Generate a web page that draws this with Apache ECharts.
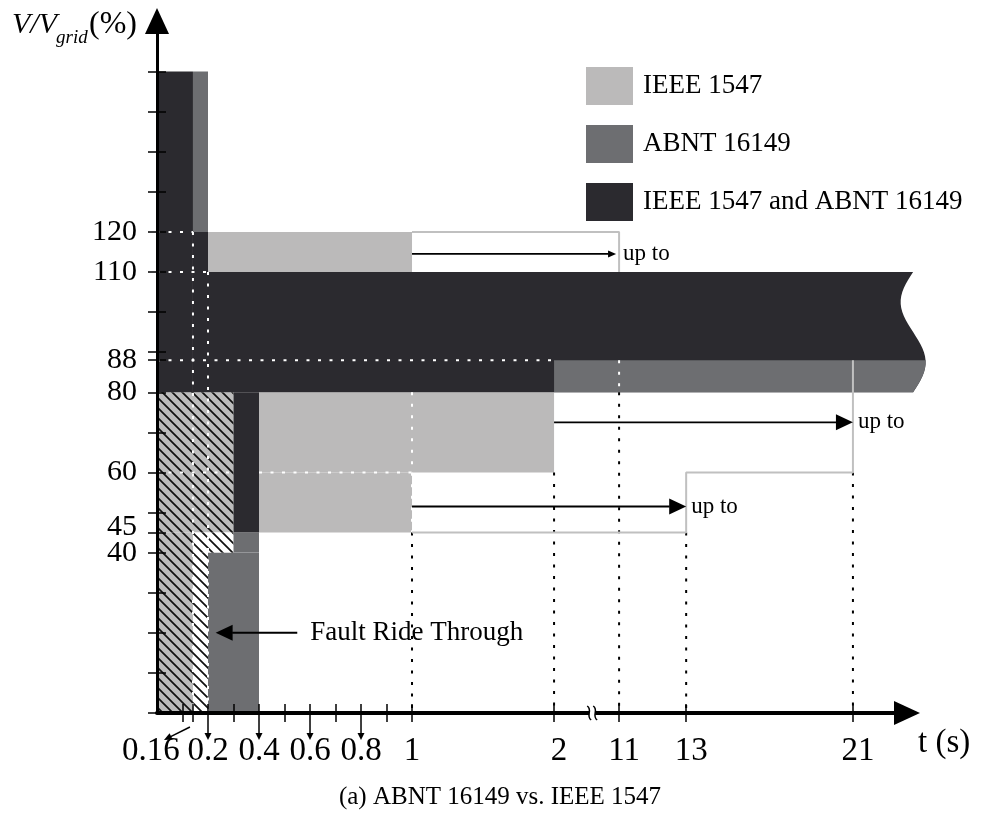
<!DOCTYPE html>
<html>
<head>
<meta charset="utf-8">
<script src="https://cdn.jsdelivr.net/npm/echarts@6/dist/echarts.min.js"></script>
<style>
  html, body { margin: 0; padding: 0; background: #fff; }
  #chart { width: 982px; height: 815px; }
</style>
</head>
<body>
<div id="chart"></div>
<script>
// schematic time axis: t (s) knots and where they sit along the axis
const tKnots = [0, 0.1, 0.16, 0.2, 1, 2, 11, 13, 21, 24];
const uKnots = [0, 0.1, 0.141, 0.2, 1, 1.557, 1.812, 2.075, 2.729, 2.965];

const xTickValues = [0.1, 0.16, 0.2, 0.3, 0.4, 0.5, 0.6, 0.7, 0.8, 0.9, 1, 2, 11, 13, 21];
const xTickLabels = ['0.16', '0.2', '0.4', '0.6', '0.8', '1', '2', '11', '13', '21'];
const yTickValues = [0, 10, 20, 30, 40, 45, 50, 60, 70, 80, 88, 90, 100, 110, 120, 130, 140, 150, 160];
const yTickLabels = [40, 45, 60, 80, 88, 110, 120];
const legendNames = ['IEEE 1547', 'ABNT 16149', 'IEEE 1547 and ABNT 16149'];

// zones: [t start, t end, V low, V high]
const ieeeZones = [[0.2, 1, 110, 120], [0.4, 2, 60, 80], [0.4, 1, 45, 60]];
const abntZones = [[0.16, 0.2, 120, 160], [0.2, 0.4, 0, 40], [0.3, 0.4, 40, 45]];
const bothZones = [[0, 0.16, 80, 160], [0.16, 0.2, 80, 120], [0.3, 0.4, 45, 80]];
const bandEnd = 24;
const bothBand = [[0.2, bandEnd, 80, 110]];
const abntBand = [[2, bandEnd, 80, 88]];
const frtZones = [[0, 0.3, 45, 80], [0, 0.16, 0, 45]];
const frtGapZones = [[0.16, 0.3, 40, 45], [0.16, 0.2, 0, 40]];

// IEEE 1547 extended limits, [t, V]
const ieeeLimit11 = [[1, 120], [11, 120], [11, 110]];
const ieeeLimit21 = [[21, 88], [21, 60], [13, 60], [13, 45], [1, 45]];

// guide lines: [t1, V1, t2, V2]
const whiteGuides = [[0, 120, 0.16, 120], [0, 110, 0.2, 110], [0, 88, 2, 88], [0, 60, 0.3, 60], [0.4, 60, 1, 60],
  [0.16, 120, 0.16, 0], [0.2, 110, 0.2, 0], [1, 80, 1, 45], [11, 88, 11, 80]];
const blackGuides = [[1, 45, 1, 0], [2, 60, 2, 0], [11, 80, 11, 0], [13, 45, 13, 0], [21, 60, 21, 0]];

// "up to" arrows: [t from, t to, V]
const upToArrows = [[1, 11, 114.5], [2, 21, 72.5], [1, 13, 51.5]];
const frtArrow = [[0.55, 0.23, 20]];
const pointerTicks = [0.2, 0.4, 0.6, 0.8];
const slantPointerTicks = [0.16];
const axisBreakAt = [[7]];

const FONT = "'Liberation Serif', 'Times New Roman', serif";
const DARK = '#2b2a2f';
const GREY = '#6d6e71';
const LIGHT = '#bbbaba';
const LIMIT = '#c0c0c0';

function toU(t) {
  for (let i = 1; i < tKnots.length; i++) {
    if (t <= tKnots[i]) {
      const f = (t - tKnots[i - 1]) / (tKnots[i] - tKnots[i - 1]);
      return uKnots[i - 1] + f * (uKnots[i] - uKnots[i - 1]);
    }
  }
  return uKnots[uKnots.length - 1];
}

function hatch(bg) {
  const c = document.createElement('canvas');
  c.width = c.height = 10;
  const g = c.getContext('2d');
  g.fillStyle = bg;
  g.fillRect(0, 0, 10, 10);
  g.strokeStyle = '#111';
  g.lineWidth = 1.7;
  g.beginPath();
  g.moveTo(-1, -1); g.lineTo(11, 11);
  g.moveTo(-1, 9); g.lineTo(1, 11);
  g.moveTo(9, -1); g.lineTo(11, 1);
  g.stroke();
  return c;
}

function zoneItem(fill) {
  return function (params, api) {
    const a = api.coord([toU(api.value(0)), api.value(3)]);
    const b = api.coord([toU(api.value(1)), api.value(2)]);
    return {
      type: 'rect',
      shape: { x: a[0], y: a[1], width: b[0] - a[0], height: b[1] - a[1] },
      style: { fill: fill }
    };
  };
}

// band with the torn (wavy) right end
const WAVE = 12.5;
function bandItem(fill) {
  const top = bothBand[0][3], bottom = bothBand[0][2];
  return function (params, api) {
    const t0 = api.value(0), t1 = api.value(1), v0 = api.value(2), v1 = api.value(3);
    const xr = api.coord([toU(t1), 0])[0];
    const pts = [api.coord([toU(t0), v1])];
    const n = 30;
    for (let i = 0; i <= n; i++) {
      const v = v1 + (v0 - v1) * i / n;
      const s = (top - v) / (top - bottom);
      pts.push([xr - WAVE * Math.sin(2 * Math.PI * s), api.coord([0, v])[1]]);
    }
    pts.push(api.coord([toU(t0), v0]));
    return { type: 'polygon', shape: { points: pts }, style: { fill: fill } };
  };
}

function guideItem(color) {
  return function (params, api) {
    const a = api.coord([toU(api.value(0)), api.value(1)]);
    const b = api.coord([toU(api.value(2)), api.value(3)]);
    return {
      type: 'line',
      shape: { x1: a[0], y1: a[1], x2: b[0], y2: b[1] },
      style: { stroke: color, lineWidth: 2, lineDash: [3, 8.5] }
    };
  };
}

function arrowEls(x0, y0, x1, y1, len, wid, lw) {
  const ang = Math.atan2(y1 - y0, x1 - x0);
  const bx = x1 - len * Math.cos(ang), by = y1 - len * Math.sin(ang);
  const nx = -Math.sin(ang) * wid / 2, ny = Math.cos(ang) * wid / 2;
  return [
    { type: 'line', shape: { x1: x0, y1: y0, x2: bx + 0.5 * Math.cos(ang), y2: by + 0.5 * Math.sin(ang) }, style: { stroke: '#000', lineWidth: lw } },
    { type: 'polygon', shape: { points: [[x1, y1], [bx + nx, by + ny], [bx - nx, by - ny]] }, style: { fill: '#000' } }
  ];
}

const xLabelAt = {};
xTickLabels.forEach(function (s) { xLabelAt[toU(Number(s)).toFixed(4)] = s; });

// 45 sits right next to 40, so it is labelled from the second (inside-tick) axis
const yLabelsOuter = yTickLabels.filter(function (v) { return v !== 45; });
const yLabelsInner = yTickLabels.filter(function (v) { return v === 45; });

const yLabelStyle = { fontFamily: FONT, fontSize: 30, color: '#000' };

const chart = echarts.init(document.getElementById('chart'));

const option = {
  animation: false,
  backgroundColor: '#fff',
  grid: { left: 157, right: 75, top: 21, bottom: 102, outerBoundsMode: 'none' },
  legend: {
    data: legendNames,
    orient: 'vertical',
    left: 581,
    top: 62,
    itemWidth: 47,
    itemHeight: 38,
    itemGap: 20,
    icon: 'rect',
    selectedMode: false,
    textStyle: { fontFamily: FONT, fontSize: 27, color: '#000', padding: [18, 0, 0, 5] }
  },
  xAxis: [{
    type: 'value',
    min: 0,
    max: 2.941,
    position: 'bottom',
    z: 5,
    name: 't (s)',
    nameLocation: 'end',
    nameGap: 11,
    nameTextStyle: { fontFamily: FONT, fontSize: 33, color: '#000', verticalAlign: 'top', padding: [14, 0, 0, 0] },
    axisLine: { lineStyle: { color: '#000', width: 4 }, symbol: ['none', 'triangle'], symbolSize: [24, 26] },
    axisTick: { customValues: xTickValues.map(toU), length: 9, lineStyle: { color: '#000', width: 1.5 } },
    axisLabel: {
      customValues: xTickLabels.map(function (s) { return toU(Number(s)); }),
      hideOverlap: false,
      showMinLabel: true,
      showMaxLabel: true,
      margin: 22,
      fontFamily: FONT,
      fontSize: 33,
      color: '#000',
      formatter: function (v) {
        const s = xLabelAt[v.toFixed(4)] || '';
        if (s === '0.16') return '{l|' + s + '}';
        if (Number(s) >= 2) return '{r|' + s + '}';
        return s;
      },
      rich: {
        l: { fontFamily: FONT, fontSize: 33, color: '#000', padding: [0, 84, 0, 0] },
        r: { fontFamily: FONT, fontSize: 33, color: '#000', padding: [0, 0, 0, 10] }
      }
    },
    splitLine: { show: false }
  }, {
    type: 'value',
    min: 0,
    max: 2.941,
    position: 'bottom',
    offset: 0,
    z: 5,
    axisLine: { show: false },
    axisTick: { customValues: xTickValues.map(toU), length: 9, inside: true, lineStyle: { color: '#000', width: 1.5 } },
    axisLabel: { show: false },
    splitLine: { show: false }
  }],
  yAxis: [{
    type: 'value',
    min: 0,
    max: 172.6,
    position: 'left',
    z: 5,
    axisLine: { lineStyle: { color: '#000', width: 3 }, symbol: ['none', 'triangle'], symbolSize: [24, 26] },
    axisTick: { customValues: yTickValues, length: 9, lineStyle: { color: '#000', width: 1.5 } },
    axisLabel: Object.assign({
      customValues: yLabelsOuter,
      hideOverlap: false,
      showMinLabel: true,
      showMaxLabel: true,
      margin: 20
    }, yLabelStyle),
    splitLine: { show: false }
  }, {
    type: 'value',
    min: 0,
    max: 172.6,
    position: 'left',
    offset: 0,
    z: 5,
    axisLine: { show: false },
    axisTick: { customValues: yTickValues, length: 9, inside: true, lineStyle: { color: '#000', width: 1.5 } },
    axisLabel: Object.assign({
      customValues: yLabelsInner,
      showMinLabel: true,
      showMaxLabel: true,
      margin: 20,
      formatter: '{u|{value}}',
      rich: { u: Object.assign({ padding: [0, 0, 10, 0] }, yLabelStyle) }
    }, yLabelStyle),
    splitLine: { show: false }
  }],
  graphic: [
    { type: 'text', x: 12, y: 25, style: { text: 'V/V', font: 'italic 30px ' + FONT, fill: '#000', verticalAlign: 'middle' } },
    { type: 'text', x: 56, y: 38, style: { text: 'grid', font: 'italic 19px ' + FONT, fill: '#000', verticalAlign: 'middle' } },
    { type: 'text', x: 89, y: 25, style: { text: '(%)', font: '32px ' + FONT, fill: '#000', verticalAlign: 'middle' } },
    { type: 'text', x: 500, y: 797, style: { text: '(a) ABNT 16149 vs. IEEE 1547', font: '25px ' + FONT, fill: '#000', align: 'center', verticalAlign: 'middle' } }
  ],
  series: [
    { name: 'IEEE 1547', type: 'custom', coordinateSystem: 'cartesian2d', itemStyle: { color: LIGHT }, data: ieeeZones, renderItem: zoneItem(LIGHT), silent: true },
    { name: 'frt', type: 'custom', coordinateSystem: 'cartesian2d', data: frtZones, renderItem: zoneItem({ image: hatch('#bcbcbc'), repeat: 'repeat' }), silent: true },
    { name: 'frt-gap', type: 'custom', coordinateSystem: 'cartesian2d', data: frtGapZones, renderItem: zoneItem({ image: hatch('#ffffff'), repeat: 'repeat' }), silent: true },
    { name: 'ABNT 16149', type: 'custom', coordinateSystem: 'cartesian2d', itemStyle: { color: GREY }, data: abntZones, renderItem: zoneItem(GREY), silent: true },
    { name: 'IEEE 1547 and ABNT 16149', type: 'custom', coordinateSystem: 'cartesian2d', itemStyle: { color: DARK }, data: bothZones, renderItem: zoneItem(DARK), silent: true },
    { name: 'IEEE 1547 and ABNT 16149', type: 'custom', coordinateSystem: 'cartesian2d', itemStyle: { color: DARK }, data: bothBand, renderItem: bandItem(DARK), silent: true },
    { name: 'ABNT 16149', type: 'custom', coordinateSystem: 'cartesian2d', itemStyle: { color: GREY }, data: abntBand, renderItem: bandItem(GREY), silent: true },
    { name: 'white guides', type: 'custom', coordinateSystem: 'cartesian2d', data: whiteGuides, renderItem: guideItem('#ffffff'), silent: true },
    { name: 'black guides', type: 'custom', coordinateSystem: 'cartesian2d', data: blackGuides, renderItem: guideItem('#000000'), silent: true },
    {
      name: 'limit 11', type: 'line', showSymbol: false, silent: true,
      lineStyle: { color: LIMIT, width: 2 },
      data: ieeeLimit11.map(function (p) { return [toU(p[0]), p[1]]; })
    },
    {
      name: 'limit 21', type: 'line', showSymbol: false, silent: true,
      lineStyle: { color: LIMIT, width: 2 },
      data: ieeeLimit21.map(function (p) { return [toU(p[0]), p[1]]; })
    },
    {
      name: 'up to', type: 'custom', coordinateSystem: 'cartesian2d', silent: true, z: 6,
      data: upToArrows,
      renderItem: function (params, api) {
        const a = api.coord([toU(api.value(0)), api.value(2)]);
        const b = api.coord([toU(api.value(1)), api.value(2)]);
        const small = params.dataIndex === 0;
        const tipX = small ? b[0] - 3 : b[0];
        const els = arrowEls(a[0], a[1], tipX, b[1], small ? 8 : 17, small ? 7 : 16, 1.8);
        els.push({
          type: 'text',
          style: { text: 'up to', x: b[0] + (small ? 4 : 5), y: b[1], font: '23px ' + FONT, fill: '#000', verticalAlign: 'middle' }
        });
        return { type: 'group', children: els };
      }
    },
    {
      name: 'fault ride through', type: 'custom', coordinateSystem: 'cartesian2d', silent: true, z: 6,
      data: frtArrow,
      renderItem: function (params, api) {
        const a = api.coord([toU(api.value(0)), api.value(2)]);
        const b = api.coord([toU(api.value(1)), api.value(2)]);
        const els = arrowEls(a[0], a[1], b[0], b[1], 17, 16, 2);
        els.push({
          type: 'text',
          style: { text: 'Fault Ride Through', x: a[0] + 13, y: a[1], font: '27px ' + FONT, fill: '#000', verticalAlign: 'middle' }
        });
        return { type: 'group', children: els };
      }
    },
    {
      name: 'tick pointers', type: 'custom', coordinateSystem: 'cartesian2d', silent: true, z: 10,
      data: pointerTicks.map(function (t) { return [t]; }),
      renderItem: function (params, api) {
        const p = api.coord([toU(api.value(0)), 0]);
        return { type: 'group', children: arrowEls(p[0], p[1] + 9, p[0], p[1] + 27, 7, 7, 1.5) };
      }
    },
    {
      name: 'slant pointer', type: 'custom', coordinateSystem: 'cartesian2d', silent: true, z: 10,
      data: slantPointerTicks.map(function (t) { return [t]; }),
      renderItem: function (params, api) {
        const p = api.coord([toU(api.value(0)), 0]);
        return { type: 'group', children: arrowEls(p[0] - 3, p[1] + 14, p[0] - 29, p[1] + 27, 8, 7, 1.5) };
      }
    },
    {
      name: 'axis break', type: 'custom', coordinateSystem: 'cartesian2d', silent: true, z: 10,
      data: axisBreakAt,
      renderItem: function (params, api) {
        const p = api.coord([toU(api.value(0)), 0]);
        const x = p[0], y = p[1];
        const curve = function (dx) {
          return {
            type: 'bezierCurve',
            shape: { x1: x + dx - 2, y1: y - 7, cpx1: x + dx + 4, cpy1: y - 3, cpx2: x + dx - 4, cpy2: y + 3, x2: x + dx + 2, y2: y + 7 },
            style: { stroke: '#000', lineWidth: 1.5, fill: null }
          };
        };
        return {
          type: 'group',
          children: [
            { type: 'rect', shape: { x: x - 1, y: y - 3, width: 6, height: 6 }, style: { fill: '#fff' } },
            curve(-1), curve(5)
          ]
        };
      }
    }
  ]
};

chart.setOption(option);
</script>
</body>
</html>
